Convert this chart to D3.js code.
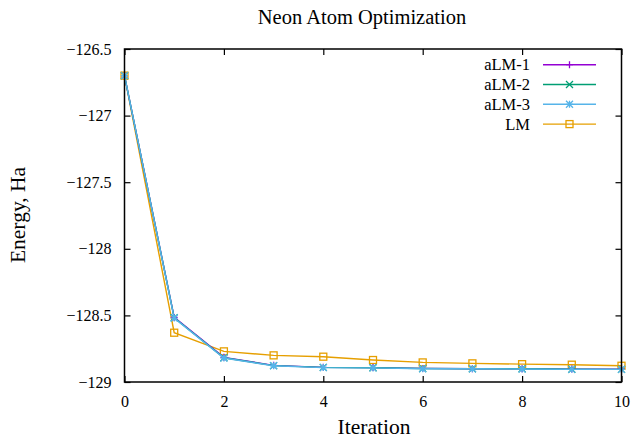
<!DOCTYPE html>
<html>
<head>
<meta charset="utf-8">
<script src="https://cdn.jsdelivr.net/npm/d3@7"></script>
<style>
  body { margin: 0; background: #fff; }
  text { font-family: "Liberation Serif", "DejaVu Serif", serif; fill: #000; }
</style>
</head>
<body>
<div id="chart"></div>
<script>
var iterations = [0, 1, 2, 3, 4, 5, 6, 7, 8, 9, 10];
var alm1 = [-126.70, -128.515, -128.815, -128.875, -128.89, -128.892, -128.898, -128.90, -128.90, -128.903, -128.904];
var alm2 = [-126.70, -128.518, -128.818, -128.877, -128.89, -128.893, -128.899, -128.90, -128.901, -128.904, -128.905];
var alm3 = [-126.70, -128.52, -128.82, -128.878, -128.892, -128.894, -128.90, -128.90, -128.902, -128.905, -128.905];
var lm = [-126.70, -128.63, -128.77, -128.80, -128.81, -128.835, -128.853, -128.86, -128.866, -128.87, -128.878];
var xTicks = [0, 2, 4, 6, 8, 10];
var yTicks = [-126.5, -127, -127.5, -128, -128.5, -129];

function init(){
    var w = 631;
    var h = 439;
    var left = 124.5, right = 621.5, top = 49, bottom = 382;

    var series = [
        {name: "aLM-1", values: alm1, color: "#9400d3", marker: "plus"},
        {name: "aLM-2", values: alm2, color: "#009e73", marker: "cross"},
        {name: "aLM-3", values: alm3, color: "#56b4e9", marker: "star"},
        {name: "LM", values: lm, color: "#e69f00", marker: "square"}
    ];

    var xscale = d3.scaleLinear().domain([0, 10]).range([left, right]);
    var yscale = d3.scaleLinear().domain([-129, -126.5]).range([bottom, top]);

    var svg = d3.select("#chart")
                .append("svg")
                .attr("width", w)
                .attr("height", h);

    var fmt = function(d) { return String(d).replace("-", "\u2212"); };

    // series lines and markers
    var line = d3.line()
        .x(function(d, i) { return xscale(iterations[i]); })
        .y(function(d) { return yscale(d); });

    function drawMarker(g, type, x, y, color) {
        var s = 3.5;
        if (type === "plus") {
            g.append("path").attr("d", `M${x-s},${y}H${x+s}M${x},${y-s}V${y+s}`)
                .attr("stroke", color).attr("stroke-width", 1.3).attr("fill", "none");
        } else if (type === "cross") {
            g.append("path").attr("d", `M${x-s},${y-s}L${x+s},${y+s}M${x-s},${y+s}L${x+s},${y-s}`)
                .attr("stroke", color).attr("stroke-width", 1.3).attr("fill", "none");
        } else if (type === "star") {
            g.append("path").attr("d", `M${x-s},${y}H${x+s}M${x},${y-s}V${y+s}M${x-s},${y-s}L${x+s},${y+s}M${x-s},${y+s}L${x+s},${y-s}`)
                .attr("stroke", color).attr("stroke-width", 1.3).attr("fill", "none");
        } else {
            g.append("rect").attr("x", x-s).attr("y", y-s).attr("width", 2*s).attr("height", 2*s)
                .attr("stroke", color).attr("stroke-width", 1.3).attr("fill", "none");
        }
    }

    // draw LM first so aLM lines sit on top as in the reference
    var order = [3, 0, 1, 2];
    order.forEach(function(k) {
        var s = series[k];
        var g = svg.append("g");
        g.append("path")
            .datum(s.values)
            .attr("d", line)
            .attr("fill", "none")
            .attr("stroke", s.color)
            .attr("stroke-width", 1.4);
        s.values.forEach(function(v, i) {
            drawMarker(g, s.marker, xscale(iterations[i]), yscale(v), s.color);
        });
    });

    // frame
    svg.append("rect")
        .attr("x", left).attr("y", top)
        .attr("width", right - left).attr("height", bottom - top)
        .attr("fill", "none").attr("stroke", "#000").attr("stroke-width", 1.5);

    // axes with inward ticks
    var tl = 6;
    var xAxisB = d3.axisBottom(xscale).tickValues(xTicks).tickSizeInner(-tl).tickSizeOuter(0).tickPadding(tl + 8);
    var xAxisT = d3.axisTop(xscale).tickValues(xTicks).tickSizeInner(-tl).tickSizeOuter(0).tickFormat("");
    var yAxisL = d3.axisLeft(yscale).tickValues(yTicks).tickSizeInner(-tl).tickSizeOuter(0).tickPadding(tl + 7).tickFormat(fmt);
    var yAxisR = d3.axisRight(yscale).tickValues(yTicks).tickSizeInner(-tl).tickSizeOuter(0).tickFormat("");

    var axes = [
        svg.append("g").attr("transform", `translate(0,${bottom})`).call(xAxisB),
        svg.append("g").attr("transform", `translate(0,${top})`).call(xAxisT),
        svg.append("g").attr("transform", `translate(${left},0)`).call(yAxisL),
        svg.append("g").attr("transform", `translate(${right},0)`).call(yAxisR)
    ];
    axes.forEach(function(a) {
        a.select(".domain").remove();
        a.selectAll("line").attr("stroke", "#000").attr("stroke-width", 1.2);
        a.selectAll("text").style("font-size", "16px")
            .style("font-family", "'Liberation Serif', 'DejaVu Serif', serif");
    });

    // title and axis labels
    svg.append("text")
        .attr("x", 362).attr("y", 24)
        .attr("text-anchor", "middle")
        .style("font-size", "20.5px")
        .text("Neon Atom Optimization");

    svg.append("text")
        .attr("x", 374).attr("y", 434)
        .attr("text-anchor", "middle")
        .style("font-size", "21.5px")
        .text("Iteration");

    svg.append("text")
        .attr("transform", "translate(25,215) rotate(-90)")
        .attr("text-anchor", "middle")
        .style("font-size", "21.5px")
        .text("Energy, Ha");

    // legend
    var legend = svg.append("g");
    series.forEach(function(s, i) {
        var y = 64.7 + i * 19.8;
        legend.append("text")
            .attr("x", 530).attr("y", y + 5.5)
            .attr("text-anchor", "end")
            .style("font-size", "16.5px")
            .text(s.name);
        legend.append("line")
            .attr("x1", 543).attr("x2", 596)
            .attr("y1", y).attr("y2", y)
            .attr("stroke", s.color).attr("stroke-width", 1.4);
        drawMarker(legend, s.marker, 569.5, y, s.color);
    });
}
window.onload = init;
</script>
</body>
</html>
